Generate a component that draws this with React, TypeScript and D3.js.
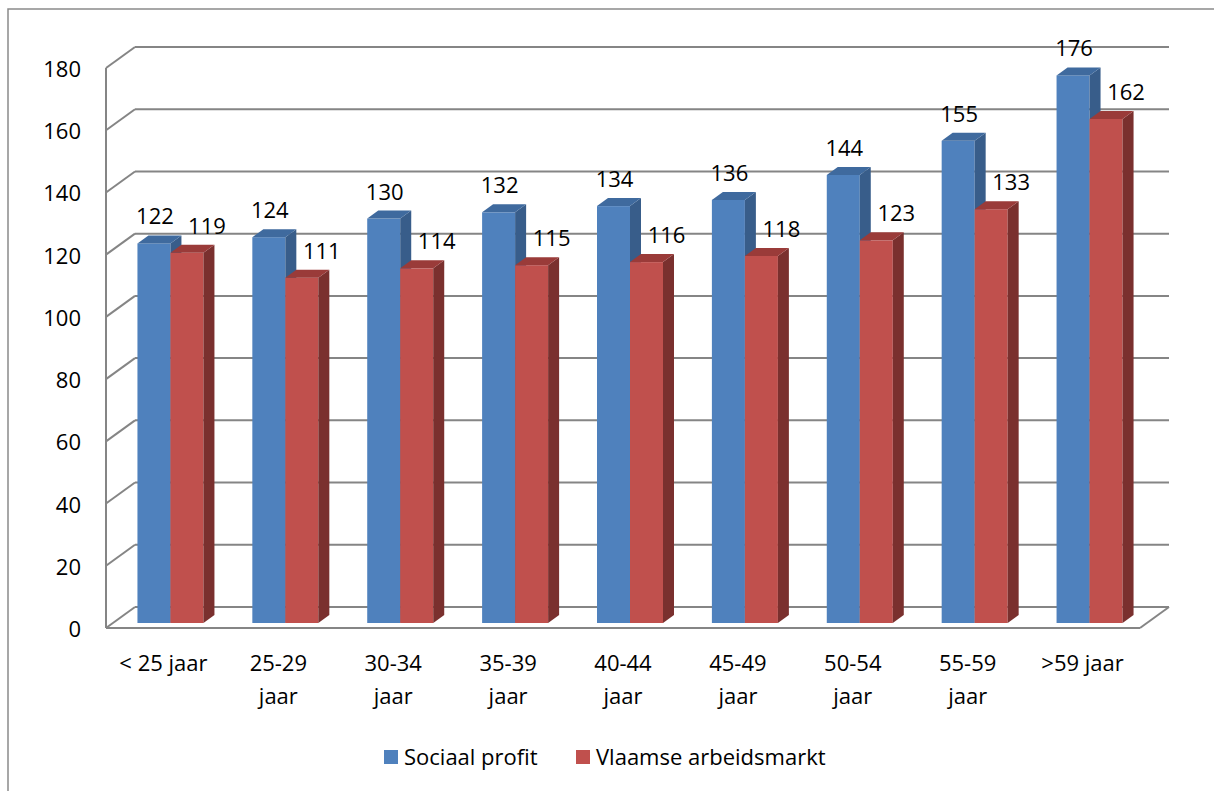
import React from "react";
import * as d3 from "d3";

const categories = [
  "< 25 jaar",
  "25-29 jaar",
  "30-34 jaar",
  "35-39 jaar",
  "40-44 jaar",
  "45-49 jaar",
  "50-54 jaar",
  "55-59 jaar",
  ">59 jaar",
];
const categoryLines = [
  ["< 25 jaar"],
  ["25-29", "jaar"],
  ["30-34", "jaar"],
  ["35-39", "jaar"],
  ["40-44", "jaar"],
  ["45-49", "jaar"],
  ["50-54", "jaar"],
  ["55-59", "jaar"],
  [">59 jaar"],
];
const seriesNames = ["Sociaal profit", "Vlaamse arbeidsmarkt"];
const sociaalProfit = [122, 124, 130, 132, 134, 136, 144, 155, 176];
const vlaamseArbeidsmarkt = [119, 111, 114, 115, 116, 118, 123, 133, 162];
const yTicks = [0, 20, 40, 60, 80, 100, 120, 140, 160, 180];

const colors = [
  { front: "#4F81BD", side: "#385D8A", top: "#3F6A9E" },
  { front: "#C0504D", side: "#7A302E", top: "#9A3B39" },
];

const FONT = "'Open Sans', sans-serif";
const FS = 22;
const W = 1214;
const H = 791;

// 3d offsets
const wall = { dx: 29, dy: -21 }; // back wall
const plane = { dx: 7, dy: -5 }; // bar front plane
const depth = { dx: 11, dy: -8 }; // bar thickness

const x = d3.scaleBand<string>().domain(categories).range([106, 1140]);
const y = d3.scaleLinear().domain([0, 180]).range([628, 68]);
const barW = 33;
const sub = d3
  .scaleBand<string>()
  .domain(seriesNames)
  .range([(x.bandwidth() - 2 * barW) / 2, (x.bandwidth() + 2 * barW) / 2]);

const App = () => {
  const series = [sociaalProfit, vlaamseArbeidsmarkt];
  const gridColor = "#858585";

  return (
    <svg
      width={W}
      height={H}
      style={{ position: "absolute", left: 0, top: 0, background: "#fff" }}
      fontFamily={FONT}
    >
      {/* outer frame */}
      <path d={`M8,${H} L8,9 L${W},9`} fill="none" stroke="#8A8A8A" strokeWidth={1.5} />

      {/* gridlines: back wall + side wall */}
      {yTicks.map((t) => (
        <g key={t}>
          <line
            x1={106 + wall.dx}
            x2={1140 + wall.dx}
            y1={y(t) + wall.dy}
            y2={y(t) + wall.dy}
            stroke={gridColor}
            strokeWidth={2}
          />
          <line
            x1={106}
            x2={106 + wall.dx}
            y1={y(t)}
            y2={y(t) + wall.dy}
            stroke={gridColor}
            strokeWidth={2}
          />
        </g>
      ))}
      {/* floor front + right edge, axis line */}
      <line x1={106} x2={1140} y1={y(0)} y2={y(0)} stroke={gridColor} strokeWidth={2} />
      <line
        x1={1140}
        x2={1140 + wall.dx}
        y1={y(0)}
        y2={y(0) + wall.dy}
        stroke={gridColor}
        strokeWidth={2}
      />
      <line x1={106} x2={106} y1={y(180)} y2={y(0)} stroke={gridColor} strokeWidth={2} />

      {/* y tick labels */}
      {yTicks.map((t) => (
        <text key={t} x={81} y={y(t) + 9} textAnchor="end" fontSize={FS} fill="#000">
          {t}
        </text>
      ))}

      {/* bars */}
      {categories.map((c, i) => (
        <g key={c}>
          {series.map((vals, s) => {
            const x0 = (x(c) as number) + (sub(seriesNames[s]) as number) + plane.dx;
            const x1 = x0 + barW;
            const yb = y(0) + plane.dy;
            const yt = y(vals[i]) + plane.dy;
            const col = colors[s];
            return (
              <g key={s}>
                <rect x={x0} y={yt} width={barW} height={yb - yt} fill={col.front} />
                <polygon
                  points={`${x1},${yt} ${x1 + depth.dx},${yt + depth.dy} ${x1 + depth.dx},${yb + depth.dy} ${x1},${yb}`}
                  fill={col.side}
                />
                <polygon
                  points={`${x0},${yt} ${x0 + depth.dx},${yt + depth.dy} ${x1 + depth.dx},${yt + depth.dy} ${x1},${yt}`}
                  fill={col.top}
                />
              </g>
            );
          })}
        </g>
      ))}

      {/* data labels */}
      {categories.map((c, i) =>
        series.map((vals, s) => {
          const x0 = (x(c) as number) + (sub(seriesNames[s]) as number) + plane.dx;
          const cx = x0 + barW / 2 + (s === 0 ? 1 : 20);
          const yt = y(vals[i]) + plane.dy + depth.dy - 11;
          return (
            <text key={`${c}-${s}`} x={cx} y={yt} textAnchor="middle" fontSize={FS} fill="#000">
              {vals[i]}
            </text>
          );
        })
      )}

      {/* category labels */}
      {categories.map((c, i) => (
        <text
          key={c}
          x={(x(c) as number) + x.bandwidth() / 2}
          y={671}
          textAnchor="middle"
          fontSize={FS}
          fill="#000"
        >
          {categoryLines[i].map((ln, k) => (
            <tspan key={k} x={(x(c) as number) + x.bandwidth() / 2} dy={k === 0 ? 0 : 33}>
              {ln}
            </tspan>
          ))}
        </text>
      ))}

      {/* legend */}
      <rect x={384} y={750} width={14} height={14} fill={colors[0].front} />
      <text x={404} y={765} fontSize={FS} fill="#000">
        {seriesNames[0]}
      </text>
      <rect x={576} y={750} width={14} height={14} fill={colors[1].front} />
      <text x={596} y={765} fontSize={FS} fill="#000">
        {seriesNames[1]}
      </text>
    </svg>
  );
};

export default App;
